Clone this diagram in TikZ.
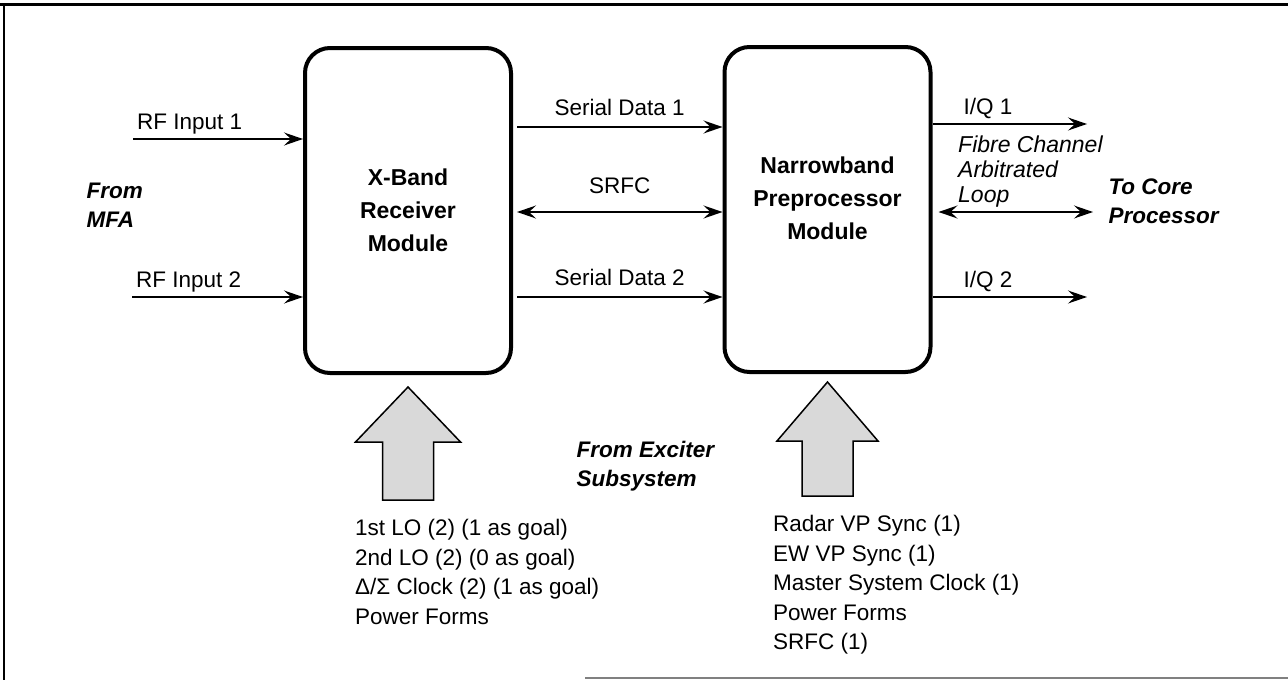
\documentclass[tikz,border=0pt]{standalone}
\usepackage{fontspec}
\setmainfont{Liberation Sans}
\usepackage{tikz}
\usetikzlibrary{arrows.meta, positioning, calc}
\tikzstyle{module} = [rectangle, draw, line width=4pt, rounded corners=25pt, minimum width=206pt, minimum height=325pt]
\tikzstyle{moduletext} = [align=center, font=\fontsize{23}{33}\selectfont\bfseries]
\tikzstyle{arrow} = [line width=1.4pt, -{Stealth[length=19pt, width=13pt, inset=7pt]}]
\tikzstyle{darrow} = [line width=1.4pt, {Stealth[length=19pt, width=13pt, inset=7pt]}-{Stealth[length=19pt, width=13pt, inset=7pt]}]
\tikzstyle{siglabel} = [font=\fontsize{22.5}{29.5}\selectfont, text depth=5pt]
\tikzstyle{siglist} = [font=\fontsize{22.5}{29.5}\selectfont, align=left, inner sep=0pt, anchor=north west]
\tikzstyle{source} = [font=\fontsize{22.5}{29}\selectfont\bfseries\itshape, align=left, anchor=west]
\tikzstyle{fatarrow} = [draw, line width=1.5pt, fill=gray!30, line join=miter]

\begin{document}
\begin{tikzpicture}[x=1pt, y=-1pt]
    \useasboundingbox (0,0) rectangle (1288,680);

    % Frame
    \draw[line width=3pt] (0,4) -- (1288,4);
    \draw[line width=2pt] (4,4) -- (4,680);
    \draw[line width=1.5pt, gray] (585,678) -- (1288,678);

    % Modules
    \node (xband) [module] at (408,210.5) {};
    \node (xbandtext) [moduletext] at (xband.center) {X-Band\\Receiver\\Module};
    \node (npp) [module] at (827.5,209.5) {};
    \node (npptext) [moduletext] at ([yshift=11pt]npp.center) {Narrowband\\Preprocessor\\Module};

    % Free ends
    \coordinate (rf1) at (133,139);
    \coordinate (rf2) at (132,297);
    \coordinate (sd1) at (517,127);
    \coordinate (srfc) at (517,212);
    \coordinate (sd2) at (517,297);
    \coordinate (iq1) at (1087,124);
    \coordinate (loop) at (1093,212);
    \coordinate (iq2) at (1087,297);

    % Inputs from MFA
    \draw [arrow] (rf1) -- (rf1 -| xband.west) node[pos=0, above right, siglabel] {RF Input 1};
    \draw [arrow] (rf2) -- (rf2 -| xband.west) node[pos=0, above right, siglabel] {RF Input 2};
    \node (mfa) [source] at (83,205) {From\\MFA};

    % Receiver to preprocessor
    \draw [arrow] (sd1) -- (sd1 -| npp.west) node[midway, above=2pt, siglabel] {Serial Data 1};
    \draw [darrow] (srfc) -- (srfc -| npp.west) node[midway, above=9pt, siglabel] {SRFC};
    \draw [arrow] (sd2) -- (sd2 -| npp.west) node[midway, above=2pt, siglabel] {Serial Data 2};

    % Outputs to core processor
    \draw [arrow] (npp.east |- iq1) -- (iq1) node[pos=0, above right, xshift=27pt, siglabel] {I/Q 1};
    \draw [darrow] ([xshift=6pt]npp.east |- loop) -- (loop);
    \draw [arrow] (npp.east |- iq2) -- (iq2) node[pos=0, above right, xshift=27pt, siglabel] {I/Q 2};
    \node (fcal) [siglist, font=\fontsize{23}{25}\selectfont\itshape] at (958,136) {Fibre Channel\\Arbitrated\\Loop};
    \node (core) [source] at (1105,201) {To Core\\Processor};

    % Exciter inputs
    \draw [fatarrow] ([yshift=-12pt]xband.south) -- ++(52.5,55) -- ++(-27,0) -- ++(0,58) -- ++(-51,0) -- ++(0,-58) -- ++(-27,0) -- cycle;
    \draw [fatarrow] ([yshift=-8pt]npp.south) -- ++(50.5,59) -- ++(-25,0) -- ++(0,55) -- ++(-51,0) -- ++(0,-55) -- ++(-25,0) -- cycle;
    \node (exciter) [source] at (573,466) {From Exciter\\Subsystem};
    \node (xbandsig) [siglist] at (355,519) {1st LO (2) (1 as goal)\\2nd LO (2) (0 as goal)\\Δ/Σ Clock (2) (1 as goal)\\Power Forms};
    \node (nppsig) [siglist] at (773,515) {Radar VP Sync (1)\\EW VP Sync (1)\\Master System Clock (1)\\Power Forms\\SRFC (1)};

\end{tikzpicture}
\end{document}
